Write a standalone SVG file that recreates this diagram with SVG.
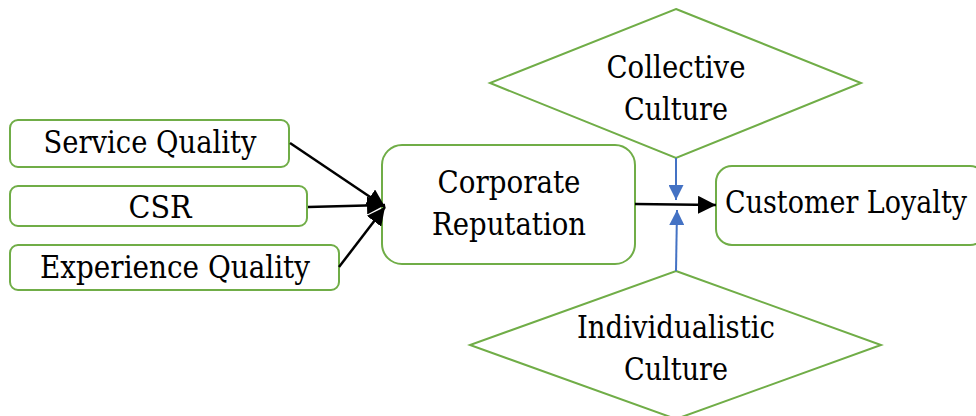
<svg xmlns="http://www.w3.org/2000/svg" width="976" height="416" viewBox="0 0 976 416">
<defs>
<style>
.box{fill:#fff;stroke:#70AD47;stroke-width:2}
.t{font-family:'DejaVu Serif','Liberation Serif','Noto Serif',serif;font-size:31px;fill:#000;text-anchor:middle}
.k{stroke:#000;stroke-width:2.5;fill:none}
.b{stroke:#4472C4;stroke-width:2;fill:none}
</style>
<marker id="ab" viewBox="0 0 10 10" refX="10" refY="5" markerWidth="15" markerHeight="15" markerUnits="userSpaceOnUse" orient="auto"><path d="M0,0 L10,5 L0,10 z" fill="#4472C4"/></marker>
<marker id="k2" viewBox="0 0 10 10" refX="10" refY="5" markerWidth="18" markerHeight="18" markerUnits="userSpaceOnUse" orient="auto"><path d="M0,0 L10,5 L0,10 z" fill="#000"/></marker>
</defs>
<rect width="976" height="416" fill="#fff"/>
<g id="service-quality"><rect class="box" x="10" y="120" width="279" height="47" rx="8"/><text class="t" x="150" y="153" textLength="213" lengthAdjust="spacingAndGlyphs">Service Quality</text></g>
<g id="csr"><rect class="box" x="10" y="186" width="297" height="40" rx="8"/><text class="t" x="160" y="218" textLength="63" lengthAdjust="spacingAndGlyphs">CSR</text></g>
<g id="experience-quality"><rect class="box" x="10" y="245" width="329" height="45" rx="8"/><text class="t" x="175" y="278" textLength="270" lengthAdjust="spacingAndGlyphs">Experience Quality</text></g>
<g id="corporate-reputation"><rect class="box" x="382" y="145" width="253" height="119" rx="20"/><text class="t" x="509" y="193" textLength="143" lengthAdjust="spacingAndGlyphs">Corporate</text><text class="t" x="509" y="235" textLength="154" lengthAdjust="spacingAndGlyphs">Reputation</text></g>
<g id="customer-loyalty"><rect class="box" x="716" y="166" width="270" height="79" rx="16"/><text class="t" x="846" y="213" textLength="242" lengthAdjust="spacingAndGlyphs">Customer Loyalty</text></g>
<g id="collective-culture"><polygon class="box" points="676,9 861,83 676,158 490,83"/><text class="t" x="676" y="78" textLength="139" lengthAdjust="spacingAndGlyphs">Collective</text><text class="t" x="676" y="120" textLength="104" lengthAdjust="spacingAndGlyphs">Culture</text></g>
<g id="individualistic-culture"><polygon class="box" points="676,271 881,345 676,419 470,345"/><text class="t" x="676" y="338" textLength="198" lengthAdjust="spacingAndGlyphs">Individualistic</text><text class="t" x="676" y="380" textLength="104" lengthAdjust="spacingAndGlyphs">Culture</text></g>
<g id="connectors">
<line class="k" x1="290" y1="143" x2="385" y2="207" marker-end="url(#k2)"/>
<line class="k" x1="308" y1="207" x2="385" y2="205" marker-end="url(#k2)"/>
<line class="k" x1="339" y1="267" x2="385" y2="207" marker-end="url(#k2)"/>
<line class="k" x1="635" y1="204" x2="716" y2="205" marker-end="url(#k2)"/>
<line class="b" x1="676" y1="158" x2="676" y2="200" marker-end="url(#ab)"/>
<line class="b" x1="676" y1="271" x2="677" y2="210" marker-end="url(#ab)"/>
</g>
</svg>
